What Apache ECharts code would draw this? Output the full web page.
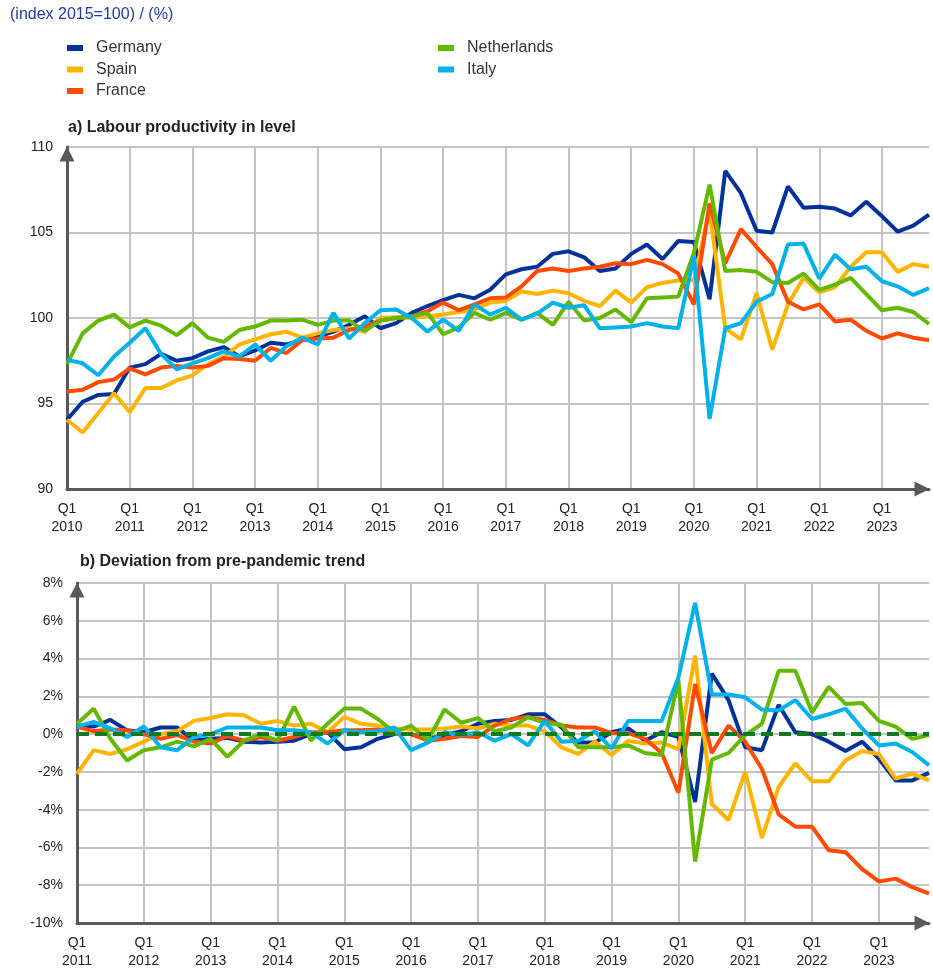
<!DOCTYPE html>
<html>
<head>
<meta charset="utf-8">
<script src="https://cdn.jsdelivr.net/npm/echarts@6/dist/echarts.min.js"></script>
<style>
  html, body { margin: 0; padding: 0; background: #fff; }
  #chart { width: 933px; height: 970px; }
</style>
</head>
<body>
<div id="chart"></div>
<script>
// panel a: Q1 2010 - Q4 2023, panel b: Q1 2011 - Q4 2023
const yearsA = [2010, 2011, 2012, 2013, 2014, 2015, 2016, 2017, 2018, 2019, 2020, 2021, 2022, 2023];
const yearsB = [2011, 2012, 2013, 2014, 2015, 2016, 2017, 2018, 2019, 2020, 2021, 2022, 2023];
const quarters = ['Q1', 'Q2', 'Q3', 'Q4'];

const countries = ['Germany', 'Spain', 'France', 'Netherlands', 'Italy'];
const colors = ['#003299', '#ffb400', '#ff4b00', '#65b800', '#00b1ea'];

// a) Labour productivity in level (index 2015=100)
const germanyA = [94.05, 95.1, 95.5, 95.55, 97.1, 97.3, 97.9, 97.5, 97.65, 98.05, 98.3, 97.75, 98.1, 98.55, 98.45, 98.7,
  98.9, 99.2, 99.6, 100.1, 99.4, 99.7, 100.3, 100.7, 101.05, 101.35, 101.15, 101.65, 102.55, 102.85, 103.0, 103.75, 103.9, 103.55, 102.75, 102.9,
  103.75, 104.3, 103.45, 104.5, 104.45, 101.1, 108.6, 107.3, 105.1, 105.0, 107.7, 106.45, 106.5, 106.4, 106.0, 106.8, 105.95, 105.05, 105.4, 106.05];
const spainA = [94.05, 93.3, 94.45, 95.6, 94.5, 95.9, 95.9, 96.35, 96.65, 97.3, 97.75, 98.45, 98.75, 99.05, 99.2, 98.85,
  99.1, 99.3, 99.4, 99.2, 100.0, 100.05, 100.0, 100.1, 100.2, 100.35, 100.5, 100.9, 101.0, 101.55, 101.4, 101.6, 101.45, 101.0, 100.7, 101.6,
  100.9, 101.8, 102.05, 102.2, 102.2, 106.3, 99.4, 98.75, 101.45, 98.15, 100.8, 102.35, 101.5, 101.8, 103.0, 103.85, 103.85, 102.7, 103.15, 103.0];
const franceA = [95.7, 95.8, 96.25, 96.4, 97.05, 96.7, 97.1, 97.2, 97.1, 97.2, 97.65, 97.6, 97.5, 98.25, 97.95, 98.7,
  98.8, 98.85, 99.3, 99.5, 99.85, 100.0, 100.1, 100.4, 100.9, 100.45, 100.8, 101.15, 101.2, 101.85, 102.75, 102.9, 102.75, 102.9, 103.0, 103.2,
  103.15, 103.4, 103.15, 102.6, 100.8, 106.7, 103.2, 105.2, 104.15, 103.15, 100.95, 100.5, 100.8, 99.8, 99.9, 99.25, 98.8, 99.1, 98.85, 98.7];
const netherlandsA = [97.3, 99.1, 99.85, 100.2, 99.45, 99.85, 99.55, 99.0, 99.7, 98.85, 98.6, 99.3, 99.5, 99.85, 99.85, 99.9,
  99.6, 99.85, 99.85, 99.25, 99.85, 100.0, 100.1, 100.3, 99.05, 99.45, 100.3, 99.9, 100.3, 99.9, 100.3, 99.6, 100.95, 99.85, 100.0, 100.5,
  99.75, 101.15, 101.2, 101.25, 103.8, 107.8, 102.75, 102.8, 102.7, 102.1, 102.05, 102.6, 101.65, 101.95, 102.35, 101.4, 100.45, 100.6, 100.35, 99.65];
const italyA = [97.55, 97.35, 96.65, 97.75, 98.55, 99.4, 97.9, 97.0, 97.35, 97.65, 98.05, 97.75, 98.45, 97.5, 98.35, 98.85,
  98.45, 100.3, 98.8, 99.7, 100.45, 100.5, 100.0, 99.2, 99.9, 99.25, 100.8, 100.2, 100.6, 99.9, 100.25, 100.9, 100.6, 100.75, 99.4, 99.45,
  99.5, 99.7, 99.5, 99.4, 103.6, 94.1, 99.4, 99.7, 100.95, 101.4, 104.3, 104.35, 102.3, 103.7, 102.85, 103.0, 102.15, 101.85, 101.35, 101.75];

// b) Deviation from pre-pandemic trend (%)
const germanyB = [0.45, 0.4, 0.75, 0.2, 0.1, 0.35, 0.35, -0.35, -0.25, -0.2, -0.4, -0.45, -0.4, -0.35, 0, 0.1,
  -0.8, -0.7, -0.25, 0, 0, -0.25, -0.05, 0.15, 0.55, 0.7, 0.75, 1.05, 1.05, 0.35, -0.45, -0.45, 0.1,
  0.3, -0.35, 0.1, -0.15, -3.6, 3.2, 1.8, -0.7, -0.85, 1.55, 0.1, 0, -0.4, -0.9, -0.4, -1.3, -2.45, -2.45, -2.05];
const spainB = [-2.1, -0.85, -1.05, -0.8, -0.4, 0, 0.15, 0.7, 0.85, 1.05, 1.0, 0.55, 0.7, 0.45, 0.55, 0.1,
  0.9, 0.55, 0.45, 0.3, 0.25, 0.25, 0.3, 0.4, 0.3, 0.55, 0.45, 0.45, 0.15, -0.7, -1.05, -0.4, -1.1,
  -0.35, -0.5, -0.45, -0.8, 4.15, -3.7, -4.55, -2.0, -5.5, -2.8, -1.55, -2.5, -2.5, -1.4, -0.9, -1.05, -2.35, -2.1, -2.45];
const franceB = [0.4, 0.15, 0.25, 0.2, 0, -0.25, -0.05, -0.4, -0.5, -0.1, -0.35, -0.15, -0.35, -0.15, 0.1, 0.1,
  0.2, 0.2, 0.25, 0, 0, -0.35, -0.25, -0.1, -0.15, 0.45, 0.8, 0.9, 0.75, 0.45, 0.35, 0.35, 0.05,
  0.05, -0.25, -1.0, -3.1, 2.65, -1.0, 0.45, -0.4, -1.85, -4.25, -4.9, -4.9, -6.15, -6.25, -7.15, -7.8, -7.65, -8.1, -8.45];
const netherlandsB = [0.55, 1.35, -0.25, -1.4, -0.85, -0.7, -0.4, -0.65, -0.25, -1.2, -0.35, 0, -0.35, 1.45, -0.35, 0.55,
  1.35, 1.35, 0.8, 0.1, 0.45, -0.35, 1.3, 0.6, 0.85, 0.15, 0.35, 0.9, 0.6, 0.5, -0.7, -0.7, -0.7,
  -0.6, -1.0, -1.1, 2.85, -6.75, -1.35, -1.0, -0.05, 0.55, 3.35, 3.35, 1.15, 2.5, 1.6, 1.65, 0.7, 0.4, -0.25, -0.05];
const italyB = [0.4, 0.65, 0.3, -0.15, 0.4, -0.7, -0.85, -0.15, 0, 0.35, 0.35, 0.35, 0.2, 0.2, 0.1, -0.5,
  0.2, 0.1, 0.15, 0.35, -0.85, -0.45, 0.1, -0.05, 0.1, -0.35, 0, -0.6, 0.7, -0.4, -0.35, 0.15, -0.75,
  0.7, 0.7, 0.7, 3.0, 6.95, 2.1, 2.1, 1.95, 1.3, 1.25, 1.8, 0.8, 1.05, 1.35, 0.3, -0.6, -0.5, -0.95, -1.65];

const seriesA = [germanyA, spainA, franceA, netherlandsA, italyA];
const seriesB = [germanyB, spainB, franceB, netherlandsB, italyB];

const yTicksA = [90, 95, 100, 105, 110];
const yTicksB = [-10, -8, -6, -4, -2, 0, 2, 4, 6, 8];

function makeQuarters(years) {
  const out = [];
  years.forEach(y => quarters.forEach(q => out.push(q + ' ' + y)));
  return out;
}
const catsA = makeQuarters(yearsA);
const catsB = makeQuarters(yearsB);

const font = 'Liberation Sans, Arial, sans-serif';
const gridColor = '#c4c4c4';
const axisColor = '#595959';
const isQ1 = (idx) => idx % 4 === 0;

function xAxis(gridIndex, cats) {
  return {
    type: 'category', gridIndex, data: cats, boundaryGap: false,
    axisLine: { onZero: false, symbol: ['none', 'triangle'], symbolSize: [15, 15], symbolOffset: [0, -7],
      lineStyle: { color: axisColor, width: 3 } },
    axisTick: { show: false },
    axisLabel: { interval: isQ1, color: '#222', fontSize: 14, fontFamily: font, lineHeight: 18, margin: 11,
      formatter: (v) => v.replace(' ', '\n') },
    splitLine: { show: true, interval: isQ1, lineStyle: { color: gridColor, width: 2 } }
  };
}
function yAxis(gridIndex, ticks, fmt) {
  return {
    type: 'value', gridIndex, min: ticks[0], max: ticks[ticks.length - 1], interval: ticks[1] - ticks[0],
    axisLine: { show: true, symbol: ['none', 'triangle'], symbolSize: [15, 15], symbolOffset: [0, -7],
      lineStyle: { color: axisColor, width: 3 } },
    axisTick: { show: false },
    axisLabel: { color: '#222', fontSize: 14, fontFamily: font, margin: 14, formatter: fmt },
    splitLine: { show: true, lineStyle: { color: gridColor, width: 2 } }
  };
}

const series = [];
countries.forEach((name, k) => {
  series.push({ name, type: 'line', xAxisIndex: 0, yAxisIndex: 0, data: seriesA[k], symbol: 'none',
    lineStyle: { width: 4, color: colors[k] }, itemStyle: { color: colors[k] } });
});
countries.forEach((name, k) => {
  series.push({ name, type: 'line', xAxisIndex: 1, yAxisIndex: 1, data: seriesB[k], symbol: 'none',
    lineStyle: { width: 4, color: colors[k] }, itemStyle: { color: colors[k] } });
});
// pre-pandemic trend reference line
series.push({ name: 'trend', type: 'line', xAxisIndex: 1, yAxisIndex: 1, data: [], z: 5,
  markLine: { silent: true, symbol: 'none', label: { show: false },
    lineStyle: { color: '#107a1e', width: 4, type: [12, 6] }, data: [{ yAxis: 0 }] } });

const legendText = { color: '#333', fontSize: 16, fontFamily: font, padding: [0, 0, 0, 8] };

const chart = echarts.init(document.getElementById('chart'));
chart.setOption({
  animation: false,
  backgroundColor: '#fff',
  textStyle: { fontFamily: font },
  title: [
    { text: '(index 2015=100) / (%)', left: 5, top: 2, textStyle: { color: '#1e3c9c', fontSize: 16, fontWeight: 'normal', fontFamily: font } },
    { text: 'a) Labour productivity in level', left: 63, top: 115, textStyle: { color: '#222', fontSize: 16, fontWeight: 'bold', fontFamily: font } },
    { text: 'b) Deviation from pre-pandemic trend', left: 75, top: 549, textStyle: { color: '#222', fontSize: 16, fontWeight: 'bold', fontFamily: font } }
  ],
  legend: [
    { data: ['Germany', 'Spain', 'France'], orient: 'vertical', left: 62, top: 35, itemWidth: 16, itemHeight: 6, itemGap: 5.5,
      icon: 'rect', textStyle: legendText, selectedMode: false },
    { data: ['Netherlands', 'Italy'], orient: 'vertical', left: 433, top: 35, itemWidth: 16, itemHeight: 6, itemGap: 5.5,
      icon: 'rect', textStyle: legendText, selectedMode: false }
  ],
  grid: [
    { left: 67, top: 147, width: 862, height: 342 },
    { left: 77, top: 583, width: 852, height: 340 }
  ],
  xAxis: [xAxis(0, catsA), xAxis(1, catsB)],
  yAxis: [yAxis(0, yTicksA, '{value}'), yAxis(1, yTicksB, '{value}%')],
  series
});
</script>
</body>
</html>
